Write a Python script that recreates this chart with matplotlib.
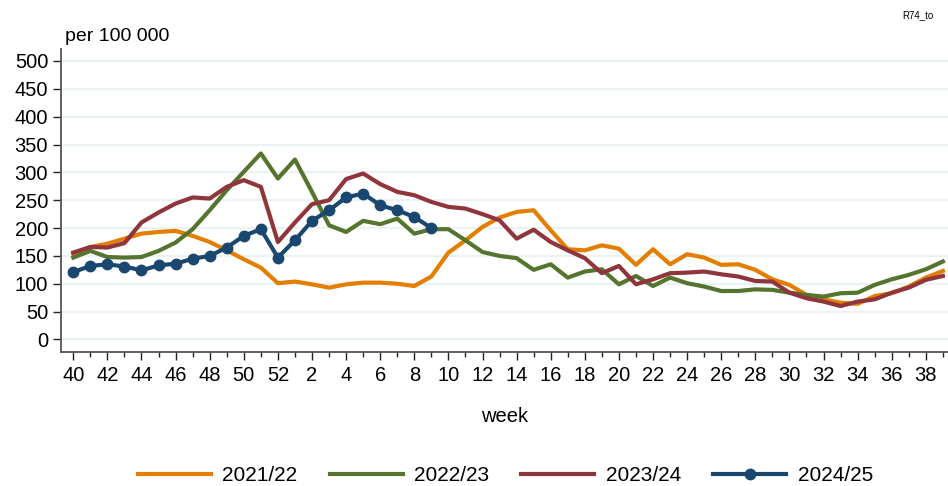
import matplotlib
matplotlib.use("Agg")
import matplotlib.pyplot as plt
from matplotlib.ticker import FixedLocator

plt.rcParams['font.family'] = ['Liberation Sans', 'DejaVu Sans']

weeks = list(range(40, 53)) + list(range(1, 40))
seasons = ["2021/22", "2022/23", "2023/24", "2024/25"]

s2021 = [153, 166, 172, 181, 190, 193, 195, 186, 175, 160, 144, 129, 101, 104, 99, 93, 99, 102, 102, 100, 96, 113,
         156, 178, 202, 219, 229, 232, 196, 162, 160, 169, 163, 134, 162, 135, 153, 147, 134, 135, 125, 108, 98, 80,
         72, 66, 64, 78, 83, 95, 111, 123]
s2022 = [147, 159, 148, 147, 148, 159, 174, 198, 232, 268, 301, 334, 289, 323, 265, 205, 193, 213, 207, 217, 190, 198,
         198, 178, 157, 150, 146, 125, 135, 111, 122, 126, 99, 114, 96, 111, 101, 95, 87, 87, 90, 89, 84, 80,
         77, 83, 84, 98, 108, 116, 126, 140]
s2023 = [156, 166, 165, 173, 210, 228, 244, 255, 253, 274, 286, 274, 175, 210, 243, 250, 288, 298, 279, 265, 259, 247,
         238, 235, 225, 214, 181, 197, 175, 160, 146, 119, 132, 99, 108, 119, 120, 122, 117, 113, 105, 104, 84, 74,
         68, 60, 68, 72, 84, 93, 107, 114]
s2024 = [121, 132, 135, 131, 124, 133, 136, 145, 150, 165, 186, 198, 147, 178, 213, 232, 255, 262, 241, 232, 220, 200]

colors = ["#e37e00", "#55752f", "#90353b", "#1a476f"]
yticks = list(range(0, 501, 50))

fig = plt.figure(figsize=(9.48, 4.86), dpi=100)
ax = fig.add_axes([0.064, 0.2763, 0.936, 0.6223])

idx = list(range(len(weeks)))
for vals, lab, col in zip([s2021, s2022, s2023], seasons[:3], colors[:3]):
    ax.plot(idx[:len(vals)], vals, color=col, lw=3.0, label=lab, zorder=3)
ax.plot(idx[:len(s2024)], s2024, color=colors[3], lw=3.0, marker='o', ms=7.5, label=seasons[3], zorder=4)

ax.set_xlim(-0.74, 51.3)
ax.set_ylim(-22, 521)
ax.set_yticks(yticks)
ax.set_yticklabels([str(v) for v in yticks])
major = [i for i, w in enumerate(weeks) if w % 2 == 0]
ax.xaxis.set_major_locator(FixedLocator(major))
ax.set_xticklabels([str(weeks[i]) for i in major])
ax.xaxis.set_minor_locator(FixedLocator([i for i, w in enumerate(weeks) if w % 2 == 1]))

ax.grid(axis='y', color='#eaf2f3', lw=1.5, zorder=0)
ax.set_axisbelow(True)
for s in ['top', 'right']:
    ax.spines[s].set_visible(False)
for s in ['left', 'bottom']:
    ax.spines[s].set_color('#555555')
    ax.spines[s].set_linewidth(1.3)
ax.tick_params(axis='both', which='major', labelsize=14.5, length=6, width=1, color='#222222')
ax.tick_params(axis='y', which='major', pad=3)
ax.tick_params(axis='x', which='minor', length=3.5, width=1, color='#222222')
ax.tick_params(axis='x', which='major', pad=4)

fig.text(0.5327, 1 - 421.7 / 486, "week", fontsize=14.5, ha='center', va='baseline')
fig.text(0.0686, 1 - 40.7 / 486, "per 100 000", fontsize=14, ha='left', va='baseline')
fig.text(0.985, 0.969, "R74_to", fontsize=7, ha='right', va='center')

handles, labels = ax.get_legend_handles_labels()
fig.legend(handles, labels, loc='center', bbox_to_anchor=(0.5332, 0.0215), ncol=4, frameon=False,
           fontsize=15, handlelength=3.5, handletextpad=0.55, columnspacing=1.55, markerscale=1.0,
           borderaxespad=0, borderpad=0)

fig.savefig("out.png", dpi=100)
